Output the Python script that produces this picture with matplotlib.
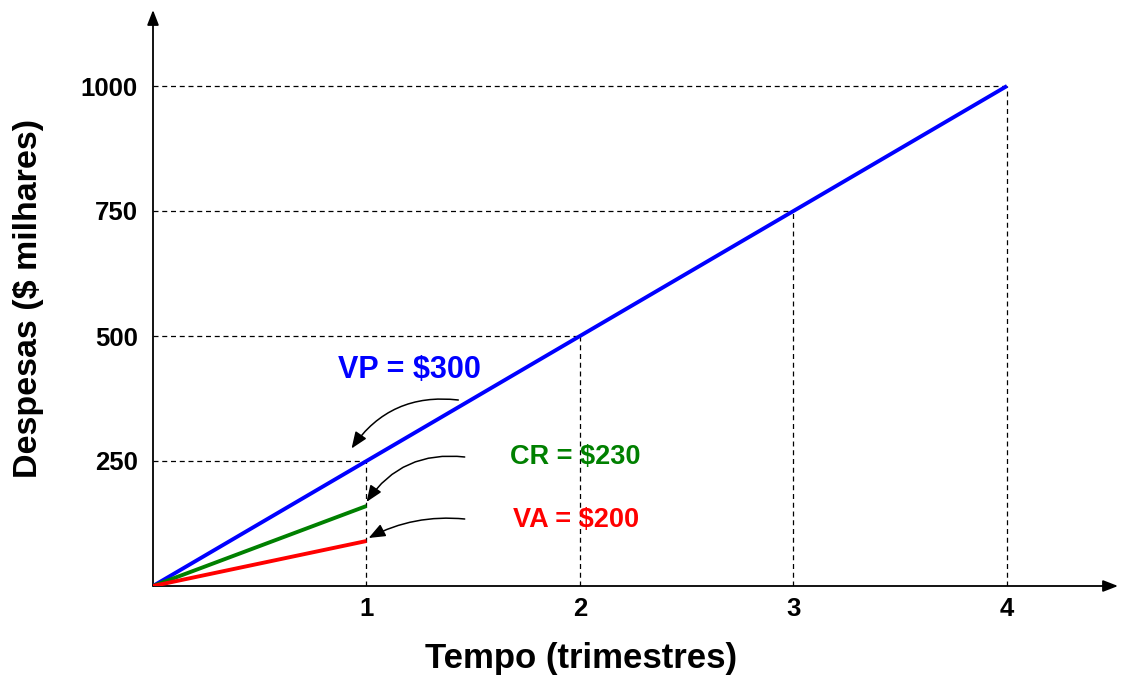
import matplotlib.pyplot as plt

plt.rcParams['font.family'] = ['Liberation Sans', 'DejaVu Sans']

# valores
trimestres = [0, 1, 2, 3, 4]
vp = [0, 250, 500, 750, 1000]
t_real = [0, 1]
cr = [0, 160]
va = [0, 90]
yticks = [250, 500, 750, 1000]
xticks = [1, 2, 3, 4]

fig = plt.figure(figsize=(11.21, 6.77), dpi=100)
ax = fig.add_axes([153 / 1121, 91 / 677, 965 / 1121, 576 / 677])
ax.set_xlim(0, 4.52)
ax.set_ylim(0, 1152)

for s in ax.spines.values():
    s.set_visible(False)

# eixos com seta
ax.annotate("", xy=(4.52, 0), xytext=(0, 0), annotation_clip=False,
            arrowprops=dict(arrowstyle="-|>,head_length=0.9,head_width=0.35",
                            color="black", lw=1.3, shrinkA=0, shrinkB=0))
ax.annotate("", xy=(0, 1152), xytext=(0, 0), annotation_clip=False,
            arrowprops=dict(arrowstyle="-|>,head_length=0.9,head_width=0.35",
                            color="black", lw=1.3, shrinkA=0, shrinkB=0))

# linhas tracejadas de referencia
for xv, yv in zip(xticks, yticks):
    ax.plot([0, xv], [yv, yv], ls=(0, (4, 3)), color="black", lw=0.9, zorder=1)
    ax.plot([xv, xv], [0, yv], ls=(0, (4, 3)), color="black", lw=0.9, zorder=1)

ax.plot(trimestres, vp, color="#0000ff", lw=2.8, zorder=3, solid_capstyle="butt")
ax.plot(t_real, cr, color="#008000", lw=2.8, zorder=3, solid_capstyle="butt")
ax.plot(t_real, va, color="#ff0000", lw=2.8, zorder=3, solid_capstyle="butt")

ax.set_xticks(xticks)
ax.set_yticks(yticks)
ax.set_xticklabels([str(v) for v in xticks], fontsize=18.5, fontweight="bold")
ax.set_yticklabels([str(v) for v in yticks], fontsize=18.5, fontweight="bold")
ax.tick_params(axis="both", length=0)
ax.tick_params(axis="x", pad=8)
ax.tick_params(axis="y", pad=11)

ax.set_xlabel("Tempo (trimestres)", fontsize=25, fontweight="bold")
ax.xaxis.set_label_coords((581 - 153) / 965, -0.097)
ax.set_ylabel("Despesas ($ milhares)", fontsize=24.5, fontweight="bold")
ax.yaxis.set_label_coords(-0.113, 0.5)

ax.text(1.20, 432, "VP = $300", color="#0000ff", fontsize=22, fontweight="bold",
        ha="center", va="center", zorder=4)
ax.text(1.98, 258, "CR = $230", color="#008000", fontsize=19.5, fontweight="bold",
        ha="center", va="center", zorder=4)
ax.text(1.98, 132, "VA = $200", color="#ff0000", fontsize=19.5, fontweight="bold",
        ha="center", va="center", zorder=4)

seta = dict(arrowstyle="-|>,head_length=1.0,head_width=0.4", color="black", lw=1.1,
            shrinkA=0, shrinkB=0)
ax.annotate("", xy=(0.93, 275), xytext=(1.43, 372),
            arrowprops=dict(connectionstyle="arc3,rad=0.3", **seta))
ax.annotate("", xy=(1.0, 168), xytext=(1.46, 258),
            arrowprops=dict(connectionstyle="arc3,rad=0.3", **seta))
ax.annotate("", xy=(1.01, 96), xytext=(1.46, 134),
            arrowprops=dict(connectionstyle="arc3,rad=0.15", **seta))

fig.savefig("out.png", dpi=100)
